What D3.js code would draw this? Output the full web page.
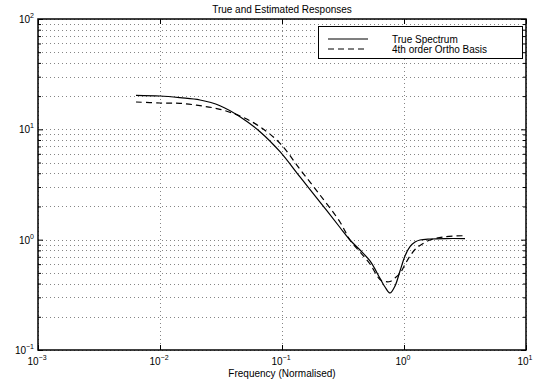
<!DOCTYPE html>
<html>
<head>
<meta charset="utf-8">
<script src="https://cdn.jsdelivr.net/npm/d3@7"></script>
<style>
  body { margin: 0; background: #fff; }
  svg { font-family: "Liberation Sans", Arial, sans-serif; }
</style>
</head>
<body>
<svg id="chart"></svg>
<script>
// values
const freq = [0.00636, 0.01, 0.01459, 0.02128, 0.03102, 0.04524, 0.06601, 0.0963, 0.1405, 0.2049, 0.2988, 0.3608, 0.4358, 0.5264, 0.6357, 0.6987, 0.7679, 0.8437, 0.9273, 1.019, 1.12, 1.231, 1.352, 1.634, 2.168, 3.162];
const trueSpectrum = [20.34, 20.05, 19.35, 18.45, 16.38, 13.02, 9.52, 6.27, 3.70, 2.194, 1.289, 0.993, 0.806, 0.641, 0.4465, 0.3723, 0.3285, 0.380, 0.520, 0.711, 0.864, 0.952, 0.993, 1.014, 1.024, 1.024];
const orthoBasis = [17.69, 17.33, 17.22, 16.38, 15.19, 13.21, 10.56, 7.47, 4.34, 2.54, 1.446, 0.993, 0.773, 0.602, 0.4354, 0.4175, 0.4175, 0.4493, 0.4955, 0.5955, 0.711, 0.814, 0.885, 0.993, 1.064, 1.086];
const xTicks = [1e-3, 1e-2, 1e-1, 1e0, 1e1];
const xTickExp = ["-3", "-2", "-1", "0", "1"];
const yTicks = [1e-1, 1e0, 1e1, 1e2];
const yTickExp = ["-1", "0", "1", "2"];
const seriesNames = ["True Spectrum", "4th order Ortho Basis"];

const width = 536, height = 388;
const m = { left: 38, right: 526, top: 19, bottom: 350 };

const svg = d3.select("#chart").attr("width", width).attr("height", height);

const x = d3.scaleLog().domain([1e-3, 1e1]).range([m.left, m.right]);
const y = d3.scaleLog().domain([1e-1, 1e2]).range([m.bottom, m.top]);

// minor values for y (2..9 per decade)
const yMinor = [];
for (let e = -1; e < 2; e++) {
  for (let k = 2; k <= 9; k++) yMinor.push(k * Math.pow(10, e));
}

// grid
const grid = svg.append("g").attr("stroke", "#666").attr("stroke-width", 0.8).attr("stroke-dasharray", "1,3");
grid.selectAll(".hg").data(yTicks.concat(yMinor)).enter().append("line")
  .attr("x1", m.left).attr("x2", m.right)
  .attr("y1", d => Math.round(y(d)) + 0.5).attr("y2", d => Math.round(y(d)) + 0.5);
grid.selectAll(".vg").data(xTicks).enter().append("line")
  .attr("y1", m.top).attr("y2", m.bottom)
  .attr("x1", d => Math.round(x(d)) + 0.5).attr("x2", d => Math.round(x(d)) + 0.5);

// axes with inward ticks
const noDomain = g => g.select(".domain").remove();
svg.append("g").attr("transform", "translate(0," + m.bottom + ")")
  .call(d3.axisBottom(x).tickValues(xTicks).tickSize(-5).tickFormat("")).call(noDomain);
svg.append("g").attr("transform", "translate(0," + m.top + ")")
  .call(d3.axisTop(x).tickValues(xTicks).tickSize(-5).tickFormat("")).call(noDomain);
svg.append("g").attr("transform", "translate(" + m.left + ",0)")
  .call(d3.axisLeft(y).tickValues(yTicks).tickSize(-5).tickFormat("")).call(noDomain);
svg.append("g").attr("transform", "translate(" + m.left + ",0)")
  .call(d3.axisLeft(y).tickValues(yMinor).tickSize(-3).tickFormat("")).call(noDomain);
svg.append("g").attr("transform", "translate(" + m.right + ",0)")
  .call(d3.axisRight(y).tickValues(yTicks).tickSize(-5).tickFormat("")).call(noDomain);
svg.append("g").attr("transform", "translate(" + m.right + ",0)")
  .call(d3.axisRight(y).tickValues(yMinor).tickSize(-3).tickFormat("")).call(noDomain);

// box
svg.append("rect")
  .attr("x", m.left).attr("y", m.top)
  .attr("width", m.right - m.left).attr("height", m.bottom - m.top)
  .attr("fill", "none").attr("stroke", "#000").attr("stroke-width", 1.5);

// tick labels with superscripts
const xl = svg.selectAll(".xl").data(xTicks).enter().append("text")
  .attr("x", d => x(d) - 1).attr("y", m.bottom + 15)
  .attr("text-anchor", "middle").attr("font-size", 10);
xl.append("tspan").text("10");
xl.append("tspan").attr("dy", -5).attr("font-size", 7).text((d, i) => xTickExp[i].replace("-", "\u2212"));

const yl = svg.selectAll(".yl").data(yTicks).enter().append("text")
  .attr("x", m.left - 4).attr("y", d => y(d) + 4)
  .attr("text-anchor", "end").attr("font-size", 10);
yl.append("tspan").text("10");
yl.append("tspan").attr("dy", -5).attr("font-size", 7).text((d, i) => yTickExp[i].replace("-", "\u2212"));

// title and x label
svg.append("text").attr("x", (m.left + m.right) / 2).attr("y", 13)
  .attr("text-anchor", "middle").attr("font-size", 10)
  .text("True and Estimated Responses");
svg.append("text").attr("x", (m.left + m.right) / 2).attr("y", 377)
  .attr("text-anchor", "middle").attr("font-size", 10)
  .text("Frequency (Normalised)");

// curves
const line = d3.line().x(d => x(d[0])).y(d => y(d[1])).curve(d3.curveCatmullRom.alpha(0.5));
svg.append("path")
  .datum(freq.map((f, i) => [f, trueSpectrum[i]]))
  .attr("d", line).attr("fill", "none").attr("stroke", "#000").attr("stroke-width", 1.2);
svg.append("path")
  .datum(freq.map((f, i) => [f, orthoBasis[i]]))
  .attr("d", line).attr("fill", "none").attr("stroke", "#000").attr("stroke-width", 1.2)
  .attr("stroke-dasharray", "6,4");

// legend
const lg = svg.append("g");
lg.append("rect").attr("x", 318.5).attr("y", 26.5).attr("width", 204).attr("height", 32)
  .attr("fill", "#fff").attr("stroke", "#000").attr("stroke-width", 1);
seriesNames.forEach((name, i) => {
  const ly = 39 + i * 10;
  lg.append("line").attr("x1", 328).attr("x2", 368).attr("y1", ly).attr("y2", ly)
    .attr("stroke", "#000").attr("stroke-width", 1.1)
    .attr("stroke-dasharray", i === 1 ? "6,4" : null);
  lg.append("text").attr("x", 392).attr("y", ly + 3.5).attr("font-size", 10).text(name);
});
</script>
</body>
</html>
